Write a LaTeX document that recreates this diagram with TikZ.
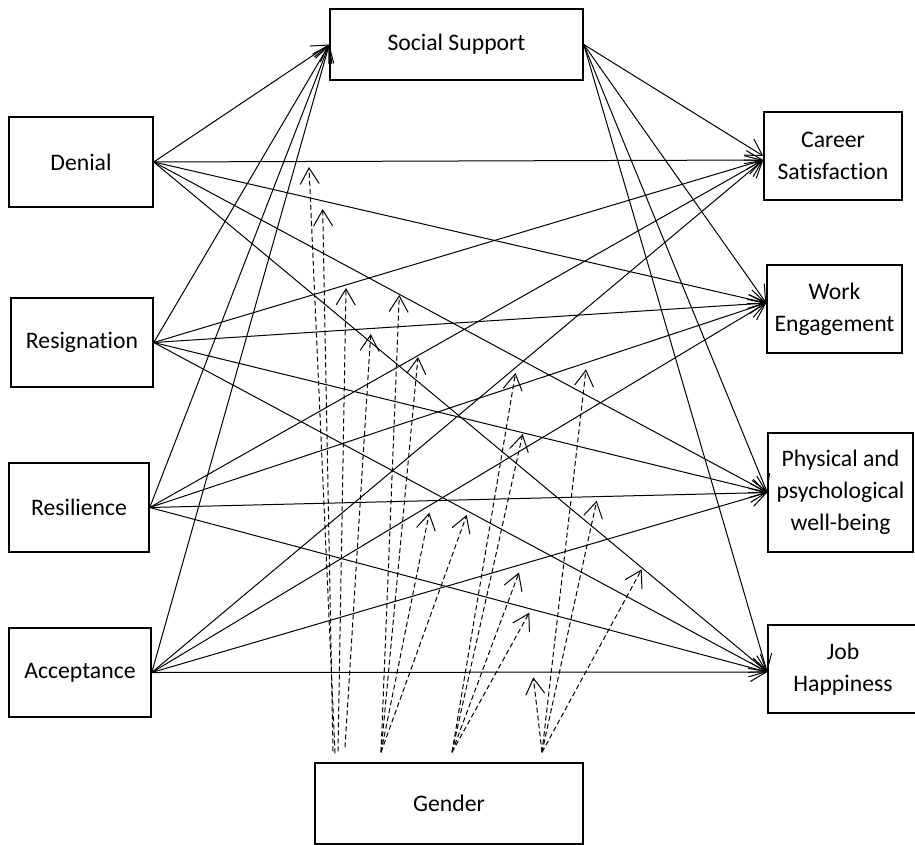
\documentclass[tikz,border=0pt]{standalone}
\usepackage{fontspec}
\setmainfont{Carlito}[Ligatures=NoCommon]
\usetikzlibrary{arrows.meta}
\begin{document}
\begin{tikzpicture}[x=1pt,y=-1pt,
  box/.style={draw, line width=1.5pt, rectangle, inner sep=0pt, align=center,
    font=\fontsize{23.7}{32}\selectfont},
  conn/.style={line width=1pt, -{Straight Barb[length=16pt,width=19pt]}},
  modarrow/.style={line width=1pt, dash pattern=on 5pt off 3pt,
    -{Straight Barb[length=16pt,width=19pt]}}]
\useasboundingbox (0,0) rectangle (915,845);
\clip (0,0) rectangle (915,845);

% boxes
\node[box, minimum width=253pt, minimum height=71pt] (ss) at (456.5,44.5) {Social Support};
\node[box, minimum width=144pt, minimum height=90pt] (denial) at (81,162) {Denial};
\node[box, minimum width=142pt, minimum height=89pt] (resig) at (82,342.5) {Resignation};
\node[box, minimum width=140pt, minimum height=89pt] (resil) at (79,507.5) {Resilience};
\node[box, minimum width=142pt, minimum height=89pt] (accept) at (80,672.5) {Acceptance};
\node[box, minimum width=138pt, minimum height=88pt] (career) at (833,156) {Career\\Satisfaction};
\node[box, minimum width=135pt, minimum height=88pt] (work) at (834.5,309) {Work\\Engagement};
\node[box, minimum width=145pt, minimum height=119pt] (phys) at (840.5,492.5) {Physical and\\psychological\\well-being};
\node[box, minimum width=150pt, minimum height=88pt] (job) at (843,669) {Job\\Happiness};
\node[box, minimum width=268pt, minimum height=81pt] (gender) at (449,803.5) {Gender};

% solid paths
\foreach \s in {denial,resig,resil,accept}{
  \draw[conn] (\s.east) -- (ss.west);
  \draw[conn] (\s.east) -- ([yshift=-4pt]career.west);
  \draw[conn] (\s.east) -- ([yshift=6pt]work.west);
  \draw[conn] (\s.east) -- (phys.west);
  \draw[conn] (\s.east) -- ([yshift=-3pt]job.west);
}
\draw[conn] (ss.east) -- (career.west);
\draw[conn] (ss.east) -- ([yshift=6pt]work.west);
\draw[conn] (ss.east) -- (phys.west);
\draw[conn] (ss.east) -- ([yshift=-3pt]job.west);

% moderator start points
\coordinate (gA1) at ([xshift=-114pt,yshift=9pt]gender.north);
\coordinate (gA2) at ([xshift=-116pt,yshift=11pt]gender.north);
\coordinate (gA3) at ([xshift=-111pt,yshift=11pt]gender.north);
\coordinate (gA4) at ([xshift=-104pt,yshift=15pt]gender.north);
\coordinate (gB) at ([xshift=-68pt,yshift=10pt]gender.north);
\coordinate (gC) at ([xshift=3pt,yshift=10pt]gender.north);
\coordinate (gD) at ([xshift=93pt,yshift=10pt]gender.north);

% moderator tips
\coordinate (t1) at (309,167);
\coordinate (t2) at (322.7,209);
\coordinate (t3) at (346,288);
\coordinate (t5) at (370.7,334);
\coordinate (t4) at (399.3,295);
\coordinate (t6) at (418,357);
\coordinate (t10) at (429.3,512.7);
\coordinate (t11) at (466.7,515);
\coordinate (t7) at (515.5,373);
\coordinate (t9) at (522.7,434);
\coordinate (t13) at (519,572.5);
\coordinate (t14) at (529.3,612.7);
\coordinate (t8) at (586,369.3);
\coordinate (t12) at (596.7,500.7);
\coordinate (t15) at (641.7,569.3);
\coordinate (t16) at (533.3,677.3);

\foreach \a/\b in {gA1/t1,gA2/t2,gA3/t3,gA4/t5,
                   gB/t4,gB/t6,gB/t10,gB/t11,
                   gC/t7,gC/t9,gC/t13,gC/t14,
                   gD/t8,gD/t12,gD/t15,gD/t16}{
  \draw[modarrow] (\a) -- (\b);
}
\end{tikzpicture}
\end{document}
